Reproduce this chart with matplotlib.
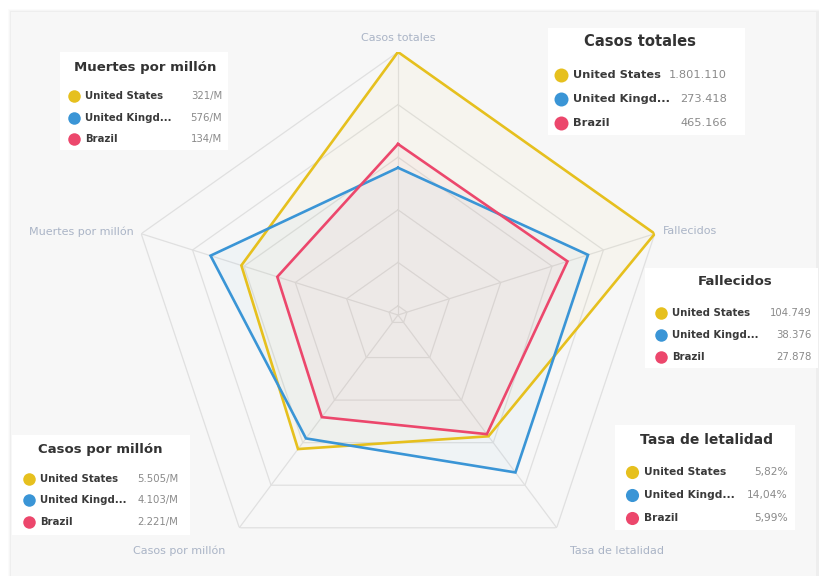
import numpy as np
import matplotlib
matplotlib.use("Agg")
import matplotlib.pyplot as plt
from matplotlib.patches import Rectangle
from matplotlib.lines import Line2D

# axes of the radar, clockwise from the top
axis_labels = ["Casos totales", "Fallecidos", "Tasa de letalidad", "Casos por millón", "Muertes por millón"]
countries = ["United States", "United Kingd...", "Brazil"]
colors = ["#e6c01e", "#3a95d6", "#ec476c"]

# normalised radius of each country on each axis
us_vals = [1.00, 1.00, 0.57, 0.63, 0.61]
uk_vals = [0.56, 0.74, 0.74, 0.58, 0.73]
br_vals = [0.65, 0.66, 0.56, 0.48, 0.47]

# legend texts for each axis
legend_values = {
    "Muertes por millón": ["321/M", "576/M", "134/M"],
    "Casos totales": ["1.801.110", "273.418", "465.166"],
    "Fallecidos": ["104.749", "38.376", "27.878"],
    "Casos por millón": ["5.505/M", "4.103/M", "2.221/M"],
    "Tasa de letalidad": ["5,82%", "14,04%", "5,99%"],
}

W, H = 819, 576
fig = plt.figure(figsize=(W / 100, H / 100), dpi=100)
fig.patch.set_facecolor("white")

def fx(px):
    return px / W

def fy(py):
    return 1 - py / H

# card background with a soft shadow
for i, a in enumerate([0.015, 0.02, 0.03]):
    fig.patches.append(Rectangle((fx(11 - 3 + i), 0), fx(W - 8 + 6 - 2 * i), fy(12 - 3 + i),
                                 transform=fig.transFigure, facecolor="#000000", alpha=a,
                                 edgecolor="none", zorder=-2))
fig.patches.append(Rectangle((fx(11), 0), fx(816 - 11), fy(12), transform=fig.transFigure,
                             facecolor="#f7f7f7", edgecolor="none", zorder=-1))

# radar axes
cx, cy, rx, ry = 398, 315, 270, 263
ax = fig.add_axes([fx(cx - rx), fy(cy + ry), 2 * rx / W, 2 * ry / H], projection="polar")
ax.set_zorder(1)
ax.set_aspect("auto")
ax.patch.set_alpha(0)
ax.set_theta_zero_location("N")
ax.set_theta_direction(-1)
ax.set_ylim(0, 1)
ax.grid(False)
ax.spines["polar"].set_visible(False)
ax.set_xticks([])
ax.set_yticks([])

n = len(axis_labels)
theta = np.linspace(0, 2 * np.pi, n, endpoint=False)
theta_closed = np.append(theta, theta[0])

# pentagon grid
for r in [0.035, 0.2, 0.4, 0.6, 0.8, 1.0]:
    ax.plot(theta_closed, [r] * (n + 1), color="#e0e0e0", lw=0.9, zorder=1)
for t in theta:
    ax.plot([t, t], [0, 1], color="#e0e0e0", lw=0.9, zorder=1)

# series
for vals, c in zip([us_vals, uk_vals, br_vals], colors):
    v = np.append(vals, vals[0])
    ax.fill(theta_closed, v, color=c, alpha=0.04, zorder=2, lw=0)
    ax.plot(theta_closed, v, color=c, lw=1.9, zorder=3, solid_joinstyle="miter")

# axis labels
lab_col = "#aab4c6"
ax.text(theta[0], 1.035, axis_labels[0], ha="center", va="bottom", color=lab_col, fontsize=8)
ax.text(theta[1], 1.03, axis_labels[1], ha="left", va="center", color=lab_col, fontsize=8)
ax.text(theta[2], 1.085, axis_labels[2], ha="left", va="top", color=lab_col, fontsize=8)
ax.text(theta[3], 1.085, axis_labels[3], ha="right", va="top", color=lab_col, fontsize=8)
ax.text(theta[4], 1.03, axis_labels[4], ha="right", va="center", color=lab_col, fontsize=8)

# legend boxes: box (x0, y0, x1, y1), title centre x, title y, row ys, dot x, value right x, scale
boxes = [
    ("Muertes por millón", (60, 52, 228, 150), 145, 67, [96, 118, 139], 74, 222, 1.0),
    ("Casos totales", (548, 28, 745, 135), 640, 42, [75, 99, 123], 561, 727, 1.12),
    ("Fallecidos", (645, 268, 818, 368), 735, 282, [313, 335, 357], 661, 812, 1.0),
    ("Casos por millón", (12, 435, 190, 535), 100, 449, [479, 500, 522], 29, 178, 1.0),
    ("Tasa de letalidad", (615, 425, 795, 530), 706, 440, [472, 495, 518], 632, 788, 1.05),
]

for title, (x0, y0, x1, y1), tx, ty, rows, dx, vx, s in boxes:
    fig.add_artist(Rectangle((fx(x0), fy(y1)), fx(x1 - x0), (y1 - y0) / H,
                             transform=fig.transFigure, facecolor="white",
                             edgecolor="none", zorder=5))
    fig.text(fx(tx), fy(ty), title, ha="center", va="center", fontsize=9.5 * s,
             fontweight="bold", color="#333333", zorder=6)
    for row_y, name, c, val in zip(rows, countries, colors, legend_values[title]):
        fig.add_artist(Line2D([fx(dx)], [fy(row_y)], marker="o", ms=9 * s, color=c,
                              mec="none", transform=fig.transFigure, zorder=6))
        fig.text(fx(dx + 11 * s), fy(row_y), name, ha="left", va="center", fontsize=7.3 * s,
                 fontweight="bold", color="#3a3a3a", zorder=6)
        fig.text(fx(vx), fy(row_y), val, ha="right", va="center", fontsize=7.3 * s,
                 color="#8a8a8a", zorder=6)

fig.savefig("out.png", dpi=100)
